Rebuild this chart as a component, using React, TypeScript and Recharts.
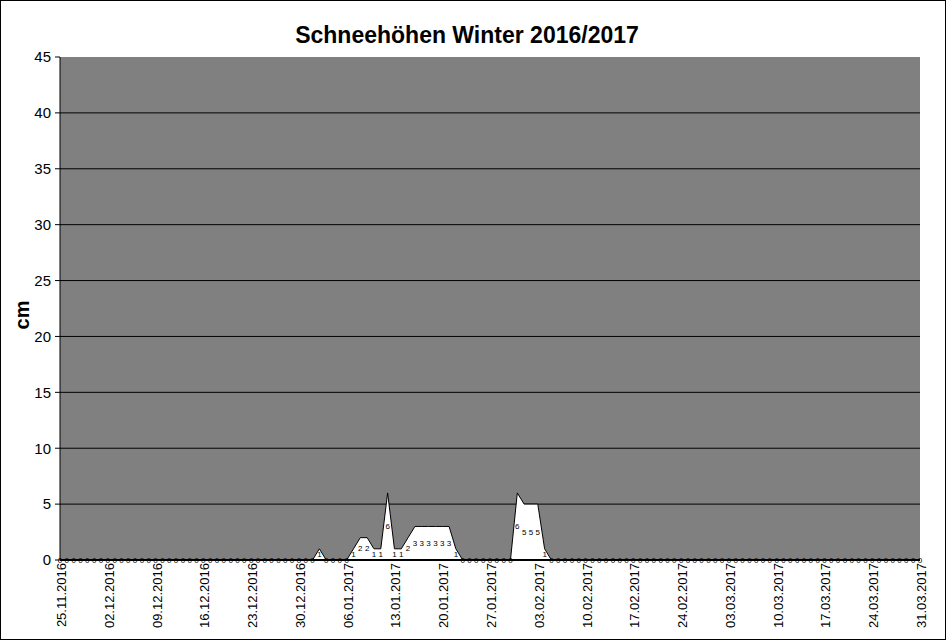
import { Area, CartesianGrid, ComposedChart, LabelList, Line, XAxis, YAxis } from "recharts";

// one entry per day, 25.11.2016 – 31.03.2017
const dates = [
  "25.11.2016", "26.11.2016", "27.11.2016", "28.11.2016", "29.11.2016", "30.11.2016",
  "01.12.2016", "02.12.2016", "03.12.2016", "04.12.2016", "05.12.2016", "06.12.2016", "07.12.2016",
  "08.12.2016", "09.12.2016", "10.12.2016", "11.12.2016", "12.12.2016", "13.12.2016", "14.12.2016",
  "15.12.2016", "16.12.2016", "17.12.2016", "18.12.2016", "19.12.2016", "20.12.2016", "21.12.2016",
  "22.12.2016", "23.12.2016", "24.12.2016", "25.12.2016", "26.12.2016", "27.12.2016", "28.12.2016",
  "29.12.2016", "30.12.2016", "31.12.2016",
  "01.01.2017", "02.01.2017", "03.01.2017", "04.01.2017", "05.01.2017", "06.01.2017", "07.01.2017",
  "08.01.2017", "09.01.2017", "10.01.2017", "11.01.2017", "12.01.2017", "13.01.2017", "14.01.2017",
  "15.01.2017", "16.01.2017", "17.01.2017", "18.01.2017", "19.01.2017", "20.01.2017", "21.01.2017",
  "22.01.2017", "23.01.2017", "24.01.2017", "25.01.2017", "26.01.2017", "27.01.2017", "28.01.2017",
  "29.01.2017", "30.01.2017", "31.01.2017",
  "01.02.2017", "02.02.2017", "03.02.2017", "04.02.2017", "05.02.2017", "06.02.2017", "07.02.2017",
  "08.02.2017", "09.02.2017", "10.02.2017", "11.02.2017", "12.02.2017", "13.02.2017", "14.02.2017",
  "15.02.2017", "16.02.2017", "17.02.2017", "18.02.2017", "19.02.2017", "20.02.2017", "21.02.2017",
  "22.02.2017", "23.02.2017", "24.02.2017", "25.02.2017", "26.02.2017", "27.02.2017", "28.02.2017",
  "01.03.2017", "02.03.2017", "03.03.2017", "04.03.2017", "05.03.2017", "06.03.2017", "07.03.2017",
  "08.03.2017", "09.03.2017", "10.03.2017", "11.03.2017", "12.03.2017", "13.03.2017", "14.03.2017",
  "15.03.2017", "16.03.2017", "17.03.2017", "18.03.2017", "19.03.2017", "20.03.2017", "21.03.2017",
  "22.03.2017", "23.03.2017", "24.03.2017", "25.03.2017", "26.03.2017", "27.03.2017", "28.03.2017",
  "29.03.2017", "30.03.2017", "31.03.2017",
];

// snow depth in cm, same order as dates
const snow = [
  // Nov
  0, 0, 0, 0, 0, 0,
  // Dec
  0, 0, 0, 0, 0, 0, 0, 0, 0, 0, 0, 0, 0, 0, 0, 0,
  0, 0, 0, 0, 0, 0, 0, 0, 0, 0, 0, 0, 0, 0, 0,
  // Jan
  0, 1, 0, 0, 0, 0, 1, 2, 2, 1, 1, 6, 1, 1, 2, 3,
  3, 3, 3, 3, 3, 1, 0, 0, 0, 0, 0, 0, 0, 0, 6,
  // Feb
  5, 5, 5, 1, 0, 0, 0, 0, 0, 0, 0, 0, 0, 0,
  0, 0, 0, 0, 0, 0, 0, 0, 0, 0, 0, 0, 0, 0,
  // Mar
  0, 0, 0, 0, 0, 0, 0, 0, 0, 0, 0, 0, 0, 0, 0, 0,
  0, 0, 0, 0, 0, 0, 0, 0, 0, 0, 0, 0, 0, 0, 0,
];

const yTicks = [0, 5, 10, 15, 20, 25, 30, 35, 40, 45];
const gridLines = [5, 10, 15, 20, 25, 30, 35, 40];

const title = "Schneehöhen Winter 2016/2017";
const yLabel = "cm";

// labels sit halfway up the filled area
const rows = dates.map((d, i) => ({ date: d, snow: snow[i], mid: snow[i] / 2 }));

const font = "'Liberation Sans', Arial, sans-serif";

function DateTick({ x, y, payload }: any) {
  return (
    <text
      x={x + 6}
      y={y}
      transform={`rotate(-90, ${x + 6}, ${y})`}
      textAnchor="end"
      fontSize={13}
      fontFamily={font}
      fill="#000"
    >
      {payload.value}
    </text>
  );
}

function ValueLabel({ x, y, value }: any) {
  return (
    <text x={x} y={y + 2.5} textAnchor="middle" fontSize={8} fontFamily={font} fill="#000">
      {value}
    </text>
  );
}

export default function App() {
  return (
    <div
      style={{
        position: "absolute",
        left: 0,
        top: 0,
        width: 946,
        height: 640,
        boxSizing: "border-box",
        border: "1px solid #000",
        background: "#fff",
        fontFamily: font,
      }}
    >
      <div
        style={{
          position: "absolute",
          left: 0,
          width: 932,
          top: 20,
          textAlign: "center",
          fontSize: 23,
          fontWeight: "bold",
          lineHeight: "28px",
        }}
      >
        {title}
      </div>
      <div
        style={{
          position: "absolute",
          left: 21,
          top: 314,
          transform: "translate(-50%, -50%) rotate(-90deg)",
          fontSize: 20,
          fontWeight: "bold",
        }}
      >
        {yLabel}
      </div>
      <div style={{ position: "absolute", left: -1, top: -1 }}>
        <ComposedChart
          width={947}
          height={640}
          data={rows}
          margin={{ top: 57, right: 27, left: 0, bottom: 0 }}
        >
          <CartesianGrid
            fill="#808080"
            stroke="#000"
            vertical={false}
            horizontalValues={gridLines}
          />
          <XAxis
            dataKey="date"
            scale="point"
            interval={6}
            height={80}
            tickSize={0}
            tickMargin={3}
            tick={<DateTick />}
            axisLine={{ stroke: "#000", strokeWidth: 2 }}
          />
          <YAxis
            domain={[0, 45]}
            ticks={yTicks}
            width={60}
            tickSize={5}
            tickMargin={4}
            tick={{ fill: "#000", fontSize: 15, fontFamily: font }}
            axisLine={{ stroke: "#000" }}
            tickLine={{ stroke: "#000" }}
          />
          <Area
            type="linear"
            dataKey="snow"
            fill="#fff"
            fillOpacity={1}
            stroke="#000"
            strokeWidth={1}
            dot={false}
            activeDot={false}
            isAnimationActive={false}
          />
          <Line
            type="linear"
            dataKey="mid"
            stroke="none"
            dot={false}
            activeDot={false}
            isAnimationActive={false}
          >
            <LabelList dataKey="snow" content={<ValueLabel />} />
          </Line>
        </ComposedChart>
      </div>
    </div>
  );
}
